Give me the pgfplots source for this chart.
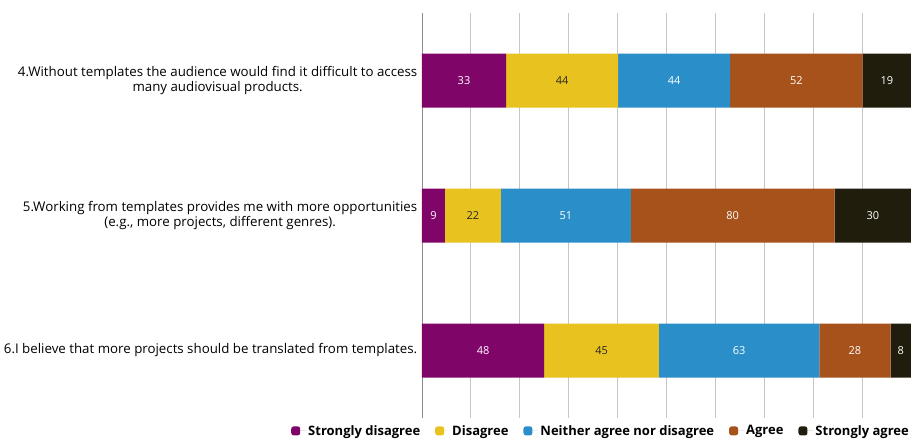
\documentclass[border=0pt]{standalone}
\usepackage{pgfplots}
\pgfplotsset{compat=1.18}
\usepackage{pgfplotstable}
\usepackage{fontspec}
\setmainfont{Open Sans}
\definecolor{cSD}{RGB}{128,5,104}
\definecolor{cD}{RGB}{232,194,30}
\definecolor{cN}{RGB}{42,142,200}
\definecolor{cA}{RGB}{166,82,26}
\definecolor{cSA}{RGB}{33,29,12}
\pgfplotstableread{
row sd d n a sa
0 33 44 44 52 19
1 9 22 51 80 30
2 48 45 63 28 8
}\data
% label positions: centre of each segment, value shown
\pgfplotstableread{
x y lab
16.5 0 33
99 0 44
147 0 52
182.5 0 19
4.5 1 9
56.5 1 51
122 1 80
177 1 30
24 2 48
124.5 2 63
170 2 28
188 2 8
}\whitelabels
\pgfplotstableread{
x y lab
55 0 44
20 1 22
70.5 2 45
}\darklabels
\pgfplotsset{
  common/.style={
    at={(0pt,0pt)}, anchor=south west,
    scale only axis, width=489pt, height=405pt,
    xmin=0, xmax=192, ymin=-0.5, ymax=2.5,
    y dir=reverse,
  },
  lab/.style={draw=none, mark=none, nodes near coords, point meta=explicit symbolic,
    every node near coord/.style={anchor=center, text=#1, font=\fontsize{11}{11}\selectfont}},
}
\begin{document}
\begin{tikzpicture}
\useasboundingbox (-422pt,-23pt) rectangle (489pt,418pt);
\begin{axis}[
  common,
  xbar stacked, bar width=54pt,
  axis line style={draw=none},
  xtick={19.2,38.4,...,192}, xticklabels={},
  extra x ticks={0}, extra x tick labels={},
  extra x tick style={grid style={draw=gray!90, line width=0.9pt}},
  xmajorgrids, grid style={draw=black!22, line width=0.9pt},
  major tick length=0pt,
  ytick={0,1,2},
  yticklabels={{4.Without templates the audience would find it difficult to access\\many audiovisual products.},{5.Working from templates provides me with more opportunities\\(e.g., more projects, different genres).},{6.I believe that more projects should be translated from templates.}},
  yticklabel style={align=center, font=\fontsize{13.3}{15}\selectfont, inner xsep=4.5pt},
  legend style={at={(1,0)}, anchor=north east, xshift=3pt, yshift=-3pt, draw=none, fill=none,
    font=\bfseries\fontsize{13}{15}\selectfont, legend columns=5,
    /tikz/every even column/.append style={column sep=13pt}},
  legend image code/.code={\fill[#1, rounded corners=2.5pt] (-4pt,-4.5pt) rectangle (5pt,4.5pt); \path (-4pt,0pt) -- (11pt,0pt);},
]
\addplot[fill=cSD, draw=none] table[x=sd, y=row] {\data};
\addplot[fill=cD, draw=none] table[x=d, y=row] {\data};
\addplot[fill=cN, draw=none] table[x=n, y=row] {\data};
\addplot[fill=cA, draw=none] table[x=a, y=row] {\data};
\addplot[fill=cSA, draw=none] table[x=sa, y=row] {\data};
\legend{Strongly disagree, Disagree, Neither agree nor disagree, Agree, Strongly agree}
\end{axis}
\begin{axis}[common, hide axis]
\addplot[lab=white] table[x=x, y=y, meta=lab] {\whitelabels};
\addplot[lab=black!85] table[x=x, y=y, meta=lab] {\darklabels};
\end{axis}
\end{tikzpicture}
\end{document}
